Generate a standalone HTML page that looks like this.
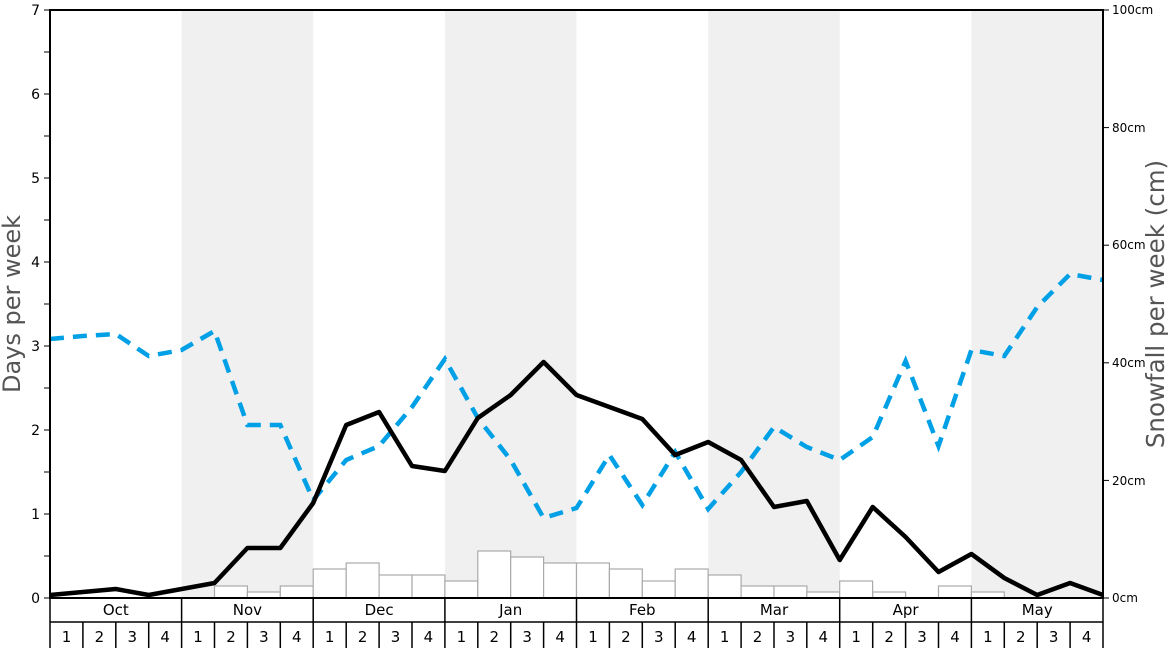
<!DOCTYPE html>
<html><head><meta charset="utf-8"><style>
html,body{margin:0;padding:0;background:#fff;}
svg{display:block;font-family:"DejaVu Sans","Liberation Sans",sans-serif;}
</style></head><body>
<svg width="1168" height="648" viewBox="0 0 1168 648">
<rect x="0" y="0" width="1168" height="648" fill="#fff"/>
<g fill="#f0f0f0">
<rect x="181.6" y="10" width="131.6" height="588"/>
<rect x="444.9" y="10" width="131.6" height="588"/>
<rect x="708.2" y="10" width="131.6" height="588"/>
<rect x="971.4" y="10" width="131.6" height="588"/>
</g>
<g fill="#fff" stroke="#aaa" stroke-width="1.2">
<rect x="214.5" y="586" width="32.9" height="12"/>
<rect x="247.4" y="592" width="32.9" height="6"/>
<rect x="280.3" y="586" width="32.9" height="12"/>
<rect x="313.2" y="569" width="32.9" height="29"/>
<rect x="346.2" y="563" width="32.9" height="35"/>
<rect x="379.1" y="575" width="32.9" height="23"/>
<rect x="412.0" y="575" width="32.9" height="23"/>
<rect x="444.9" y="581" width="32.9" height="17"/>
<rect x="477.8" y="551" width="32.9" height="47"/>
<rect x="510.7" y="557" width="32.9" height="41"/>
<rect x="543.6" y="563" width="32.9" height="35"/>
<rect x="576.5" y="563" width="32.9" height="35"/>
<rect x="609.4" y="569" width="32.9" height="29"/>
<rect x="642.3" y="581" width="32.9" height="17"/>
<rect x="675.2" y="569" width="32.9" height="29"/>
<rect x="708.2" y="575" width="32.9" height="23"/>
<rect x="741.1" y="586" width="32.9" height="12"/>
<rect x="774.0" y="586" width="32.9" height="12"/>
<rect x="806.8" y="592" width="32.9" height="6"/>
<rect x="839.7" y="581" width="32.9" height="17"/>
<rect x="872.7" y="592" width="32.9" height="6"/>
<rect x="938.5" y="586" width="32.9" height="12"/>
<rect x="971.4" y="592" width="32.9" height="6"/>
</g>
<polyline fill="none" stroke="#00a0e6" stroke-width="4.5" stroke-dasharray="14,9" points="50,339 82.9,336 115.8,334 148.7,356 181.6,350 214.5,331 247.4,425 280.3,425 313.2,500 346.2,460 379.1,446 412,407 444.9,359 477.8,418 510.7,460 543.6,518 576.5,508 609.4,455 642.3,505 675.2,452 708.2,509 741.1,472 774,427 806.8,447 839.7,460 872.7,437 905.6,361 938.5,446 971.4,350 1004.3,356 1037.2,307 1070.1,274 1103,280"/>
<polyline fill="none" stroke="#000" stroke-width="4.5" stroke-linejoin="round" points="50,595 82.9,592 115.8,589 148.7,595 181.6,589 214.5,583 247.4,548 280.3,548 313.2,503 346.2,425 379.1,412 412,466 444.9,471 477.8,418 510.7,395 543.6,362 576.5,395 609.4,407 642.3,419 675.2,455 708.2,442 741.1,460 774,507 806.8,501 839.7,560 872.7,507 905.6,537 938.5,572 971.4,554 1004.3,578 1037.2,595 1070.1,583 1103,595"/>
<rect x="50" y="10" width="1053" height="588" fill="none" stroke="#000" stroke-width="2"/>
<g stroke="#000" stroke-width="1">
<line x1="44" y1="598" x2="50" y2="598"/><line x1="44" y1="556" x2="50" y2="556"/>
<line x1="44" y1="514" x2="50" y2="514"/><line x1="44" y1="472" x2="50" y2="472"/>
<line x1="44" y1="430" x2="50" y2="430"/><line x1="44" y1="388" x2="50" y2="388"/>
<line x1="44" y1="346" x2="50" y2="346"/><line x1="44" y1="304" x2="50" y2="304"/>
<line x1="44" y1="262" x2="50" y2="262"/><line x1="44" y1="220" x2="50" y2="220"/>
<line x1="44" y1="178" x2="50" y2="178"/><line x1="44" y1="136" x2="50" y2="136"/>
<line x1="44" y1="94" x2="50" y2="94"/><line x1="44" y1="52" x2="50" y2="52"/>
<line x1="44" y1="10" x2="50" y2="10"/>
<line x1="1103" y1="598" x2="1109" y2="598"/><line x1="1103" y1="480.4" x2="1109" y2="480.4"/>
<line x1="1103" y1="362.8" x2="1109" y2="362.8"/><line x1="1103" y1="245.2" x2="1109" y2="245.2"/>
<line x1="1103" y1="127.6" x2="1109" y2="127.6"/><line x1="1103" y1="10" x2="1109" y2="10"/>
</g>
<g font-size="14" text-anchor="end" fill="#000">
<text x="40" y="603">0</text><text x="40" y="519">1</text><text x="40" y="435">2</text>
<text x="40" y="351">3</text><text x="40" y="267">4</text><text x="40" y="183">5</text>
<text x="40" y="99">6</text><text x="40" y="15">7</text>
</g>
<g font-size="12" fill="#000">
<text x="1112" y="602">0cm</text><text x="1112" y="485">20cm</text><text x="1112" y="367">40cm</text>
<text x="1112" y="249">60cm</text><text x="1112" y="132">80cm</text><text x="1112" y="14">100cm</text>
</g>
<text transform="translate(20,304) rotate(-90)" font-size="24" fill="#555" text-anchor="middle">Days per week</text>
<text transform="translate(1164,304) rotate(-90)" font-size="24.5" fill="#555" text-anchor="middle">Snowfall per week (cm)</text>
<g stroke="#000" stroke-width="1.5" fill="none">
<line x1="50" y1="622" x2="1103" y2="622"/>
<line x1="50" y1="598" x2="50" y2="648"/><line x1="1103" y1="598" x2="1103" y2="648"/>
<line x1="181.6" y1="598" x2="181.6" y2="648"/><line x1="313.2" y1="598" x2="313.2" y2="648"/>
<line x1="444.9" y1="598" x2="444.9" y2="648"/><line x1="576.5" y1="598" x2="576.5" y2="648"/>
<line x1="708.2" y1="598" x2="708.2" y2="648"/><line x1="839.7" y1="598" x2="839.7" y2="648"/>
<line x1="971.4" y1="598" x2="971.4" y2="648"/>
<line x1="82.9" y1="622" x2="82.9" y2="648"/><line x1="115.8" y1="622" x2="115.8" y2="648"/><line x1="148.7" y1="622" x2="148.7" y2="648"/>
<line x1="214.5" y1="622" x2="214.5" y2="648"/><line x1="247.4" y1="622" x2="247.4" y2="648"/><line x1="280.3" y1="622" x2="280.3" y2="648"/>
<line x1="346.2" y1="622" x2="346.2" y2="648"/><line x1="379.1" y1="622" x2="379.1" y2="648"/><line x1="412" y1="622" x2="412" y2="648"/>
<line x1="477.8" y1="622" x2="477.8" y2="648"/><line x1="510.7" y1="622" x2="510.7" y2="648"/><line x1="543.6" y1="622" x2="543.6" y2="648"/>
<line x1="609.4" y1="622" x2="609.4" y2="648"/><line x1="642.3" y1="622" x2="642.3" y2="648"/><line x1="675.2" y1="622" x2="675.2" y2="648"/>
<line x1="741.1" y1="622" x2="741.1" y2="648"/><line x1="774" y1="622" x2="774" y2="648"/><line x1="806.8" y1="622" x2="806.8" y2="648"/>
<line x1="872.7" y1="622" x2="872.7" y2="648"/><line x1="905.6" y1="622" x2="905.6" y2="648"/><line x1="938.5" y1="622" x2="938.5" y2="648"/>
<line x1="1004.3" y1="622" x2="1004.3" y2="648"/><line x1="1037.2" y1="622" x2="1037.2" y2="648"/><line x1="1070.1" y1="622" x2="1070.1" y2="648"/>
</g>
<g font-size="15" text-anchor="middle" fill="#000">
<text x="115.8" y="615">Oct</text><text x="247.4" y="615">Nov</text><text x="379.1" y="615">Dec</text>
<text x="510.7" y="615">Jan</text><text x="642.3" y="615">Feb</text><text x="774" y="615">Mar</text>
<text x="905.6" y="615">Apr</text><text x="1037.2" y="615">May</text>
</g>
<g font-size="15" text-anchor="middle" fill="#000">
<text x="66.5" y="642">1</text><text x="99.4" y="642">2</text><text x="132.3" y="642">3</text><text x="165.2" y="642">4</text>
<text x="198" y="642">1</text><text x="231" y="642">2</text><text x="263.9" y="642">3</text><text x="296.8" y="642">4</text>
<text x="329.7" y="642">1</text><text x="362.6" y="642">2</text><text x="395.5" y="642">3</text><text x="428.4" y="642">4</text>
<text x="461.4" y="642">1</text><text x="494.3" y="642">2</text><text x="527.2" y="642">3</text><text x="560.1" y="642">4</text>
<text x="593" y="642">1</text><text x="625.9" y="642">2</text><text x="658.8" y="642">3</text><text x="691.7" y="642">4</text>
<text x="724.6" y="642">1</text><text x="757.5" y="642">2</text><text x="790.4" y="642">3</text><text x="823.3" y="642">4</text>
<text x="856.2" y="642">1</text><text x="889.1" y="642">2</text><text x="922" y="642">3</text><text x="955" y="642">4</text>
<text x="987.9" y="642">1</text><text x="1020.8" y="642">2</text><text x="1053.7" y="642">3</text><text x="1086.6" y="642">4</text>
</g>
</svg>
</body></html>
